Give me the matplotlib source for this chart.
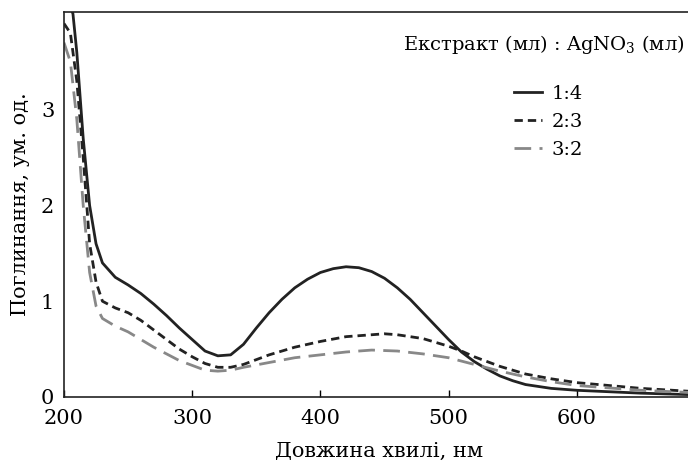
import numpy as np
import matplotlib
matplotlib.use("Agg")
import matplotlib.pyplot as plt

plt.rcParams['font.family'] = ['DejaVu Serif']
plt.rcParams['mathtext.fontset'] = 'dejavuserif'

# 1:4 (solid)
x1 = [200, 207, 210, 215, 220, 225, 230, 240, 250, 260, 270, 280, 290, 300, 310, 320, 330,
      340, 350, 360, 370, 380, 390, 400, 410, 420, 430, 440, 450, 460, 470, 480, 490, 500,
      510, 520, 530, 540, 550, 560, 580, 600, 650, 700]
y1 = [4.3, 4.0, 3.6, 2.7, 2.0, 1.6, 1.4, 1.25, 1.17, 1.08, 0.97, 0.85, 0.72, 0.6, 0.48, 0.43,
      0.44, 0.55, 0.72, 0.88, 1.02, 1.14, 1.23, 1.30, 1.34, 1.36, 1.35, 1.31, 1.24, 1.14, 1.02,
      0.88, 0.74, 0.60, 0.47, 0.37, 0.29, 0.22, 0.17, 0.13, 0.09, 0.07, 0.04, 0.02]

# 2:3 (short dash)
x2 = [200, 205, 210, 215, 220, 225, 230, 240, 250, 260, 270, 280, 290, 300, 310, 320, 330,
      340, 350, 360, 380, 400, 420, 440, 450, 460, 480, 500, 510, 520, 540, 560, 580, 600,
      650, 700]
y2 = [3.9, 3.8, 3.3, 2.5, 1.6, 1.2, 1.0, 0.93, 0.88, 0.8, 0.7, 0.6, 0.5, 0.42, 0.35, 0.31,
      0.31, 0.34, 0.39, 0.44, 0.52, 0.58, 0.63, 0.65, 0.66, 0.65, 0.61, 0.53, 0.48, 0.42,
      0.32, 0.24, 0.19, 0.15, 0.09, 0.05]

# 3:2 (gray long dash)
x3 = [200, 205, 210, 215, 220, 225, 230, 240, 250, 260, 270, 280, 290, 300, 310, 320, 330,
      340, 360, 380, 400, 420, 440, 460, 480, 500, 520, 540, 560, 580, 600, 650, 700]
y3 = [3.7, 3.5, 2.9, 2.0, 1.3, 0.95, 0.82, 0.74, 0.68, 0.6, 0.52, 0.45, 0.38, 0.33, 0.28,
      0.27, 0.28, 0.31, 0.36, 0.41, 0.44, 0.47, 0.49, 0.48, 0.45, 0.41, 0.34, 0.27, 0.21,
      0.16, 0.12, 0.07, 0.04]

labels = ["1:4", "2:3", "3:2"]

fig = plt.figure(figsize=(6.88, 4.62), dpi=100)
ax = fig.add_axes([0.093, 0.1407, 0.915, 0.8333])

ax.plot(x1, y1, color="#222222", lw=2.0, label=labels[0])
ax.plot(x2, y2, color="#222222", lw=2.0, dashes=(3, 1.8), label=labels[1])
ax.plot(x3, y3, color="#888888", lw=2.0, dashes=(6, 3), label=labels[2])

ax.set_xlim(200, 691)
ax.set_ylim(0, 4.02)
ax.set_xticks([200, 300, 400, 500, 600])
ax.set_yticks([0, 1, 2, 3])
ax.tick_params(axis="x", direction="in", length=5, width=1, labelsize=15, pad=9)
ax.tick_params(axis="y", length=0, labelsize=15, pad=7)
ax.spines["right"].set_visible(False)
for s in ["left", "bottom", "top"]:
    ax.spines[s].set_linewidth(1.2)
    ax.spines[s].set_color("#222222")

ax.set_xlabel("Довжина хвилі, нм", fontsize=15, labelpad=10)
ax.set_ylabel("Поглинання, ум. од.", fontsize=15, labelpad=8)

ax.text(0.985, 0.945, "Екстракт (мл) : AgNO$_3$ (мл)", transform=ax.transAxes,
        ha="right", va="top", fontsize=14)
ax.legend(loc="upper left", bbox_to_anchor=(0.7, 0.835), frameon=False, fontsize=14,
          handlelength=1.4, handletextpad=0.5, labelspacing=0.5, borderpad=0)

fig.savefig("out.png", dpi=100)
